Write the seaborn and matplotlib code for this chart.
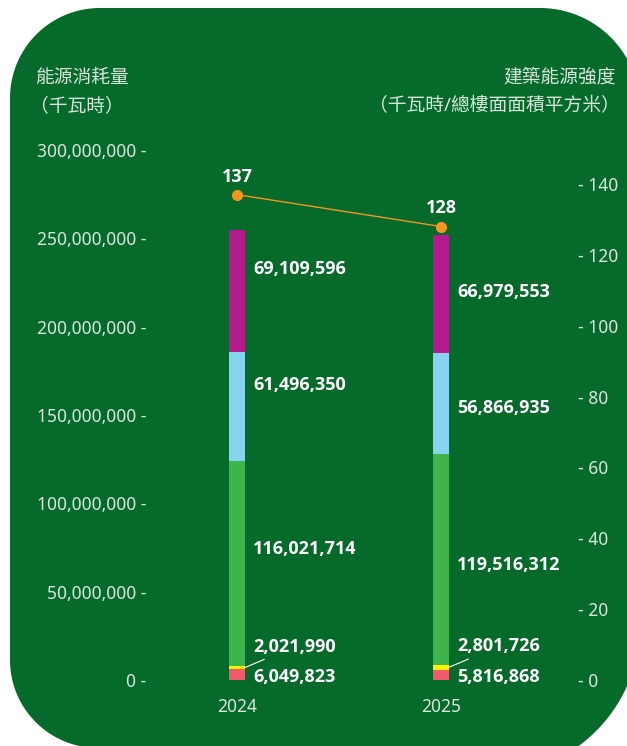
import numpy as np
import matplotlib.pyplot as plt
from matplotlib.path import Path
from matplotlib.patches import PathPatch
import seaborn as sns

# 数据
years = ["2024", "2025"]
seg_red = [6049823, 5816868]
seg_yellow = [2021990, 2801726]
seg_green = [116021714, 119516312]
seg_blue = [61496350, 56866935]
seg_magenta = [69109596, 66979553]
eui = [137, 128]

left_ticks = [0, 50000000, 100000000, 150000000, 200000000, 250000000, 300000000]
right_ticks = [0, 20, 40, 60, 80, 100, 120, 140]

# 颜色
bg_green = "#066a2b"
c_red = "#f05a6a"
c_yellow = "#fff200"
c_green = "#3db54a"
c_blue = "#87d3f0"
c_magenta = "#b5198e"
c_line = "#f7961e"
txt_light = "#d9e6dc"

sns.set_theme(style="white")
plt.rcParams['font.family'] = ['Noto Sans', 'Noto Sans CJK TC', 'DejaVu Sans']
bold_font = ['Open Sans', 'DejaVu Sans']

W, H = 627, 746
fig = plt.figure(figsize=(W / 100, H / 100), dpi=100)
fig.patch.set_facecolor("white")


def fx(x):
    return x / W


def fy(y):
    return 1 - y / H


# 圆角背景（四个角半径不同）
def arc(cx, cy, r, a0, a1, n=40):
    t = np.linspace(np.radians(a0), np.radians(a1), n)
    return [(cx + r * np.cos(t_), cy + r * np.sin(t_)) for t_ in t]


pts = []
pts += arc(10 + 90, 8 + 90, 90, 180, 270)       # 左上
pts += arc(640 - 100, 8 + 100, 100, 270, 360)   # 右上
pts += arc(640 - 150, 775 - 150, 150, 0, 90)    # 右下
pts += arc(10 + 88, 748 - 88, 88, 90, 180)      # 左下
pts = [(fx(x), fy(y)) for x, y in pts]
pts.append(pts[0])
codes = [Path.MOVETO] + [Path.LINETO] * (len(pts) - 2) + [Path.CLOSEPOLY]
bg = PathPatch(Path(pts, codes), transform=fig.transFigure,
               facecolor=bg_green, edgecolor="none", zorder=-10)
fig.patches.append(bg)

# 主坐标轴
ax = fig.add_axes([fx(155), fy(680), (570 - 155) / W, (680 - 150) / H])
ax.patch.set_alpha(0)

# 堆叠柱：从总量往下依次覆盖
layers = [seg_red, seg_yellow, seg_green, seg_blue, seg_magenta]
colors = [c_red, c_yellow, c_green, c_blue, c_magenta]
cums = np.cumsum(np.array(layers), axis=0)
for i in range(len(layers) - 1, -1, -1):
    sns.barplot(x=years, y=cums[i], color=colors[i], width=0.078,
                saturation=1, ax=ax, linewidth=0, zorder=2)

ax.set_xlim(-0.402, 1.632)
ax.set_ylim(0, 300000000)
ax.set_yticks(left_ticks)
ax.set_yticklabels([f"{v:,} -" for v in left_ticks])
ax.tick_params(axis="y", length=0, pad=6, labelsize=12.5, labelcolor=txt_light)
ax.tick_params(axis="x", length=0, pad=13, labelsize=12.5, labelcolor=txt_light)
ax.set_xlabel("")
ax.set_ylabel("")
for s in ax.spines.values():
    s.set_visible(False)
ax.grid(False)

# 数值标签
lbl = dict(color="white", fontsize=13, fontweight="bold", family=bold_font,
           ha="left", va="center")
dy_tweak = {(0, 2): 14, (0, 3): 21, (0, 4): 22, (1, 2): -6, (1, 3): -5, (1, 4): 2}
half_w = 0.039
for j in range(len(years)):
    bottoms = [0] + list(cums[:-1, j])
    for i in (2, 3, 4):
        mid = bottoms[i] + layers[i][j] / 2
        ax.annotate(f"{layers[i][j]:,}", xy=(j + half_w, mid),
                    xytext=(6, dy_tweak[(j, i)] * 0.72), textcoords="offset points",
                    **lbl)
    # 红色段
    ax.annotate(f"{seg_red[j]:,}", xy=(j + half_w, seg_red[j] / 2),
                xytext=(6, -2 * 0.72), textcoords="offset points", **lbl)
    # 黄色段（引线）
    ax.annotate(f"{seg_yellow[j]:,}", xy=(j + half_w, seg_red[j] + seg_yellow[j] / 2),
                xytext=(6, 21 * 0.72), textcoords="offset points", **lbl,
                arrowprops=dict(arrowstyle="-", color="white", lw=0.8,
                                shrinkA=1, shrinkB=0))

# 次坐标轴：建筑能源强度
ax2 = ax.twinx()
sns.lineplot(x=[0, 1], y=eui, ax=ax2, color=c_line, linewidth=1.0,
             marker="o", markersize=8, markeredgewidth=0, zorder=3)
ax2.set_ylim(0, 149.6)
ax2.set_yticks(right_ticks)
ax2.set_yticklabels([f"- {v}" for v in right_ticks])
ax2.tick_params(axis="y", length=0, pad=6, labelsize=12.5, labelcolor=txt_light)
ax2.set_ylabel("")
for s in ax2.spines.values():
    s.set_visible(False)
ax2.grid(False)
for j, v in enumerate(eui):
    ax2.annotate(f"{v}", xy=(j, v), xytext=(0, 13), textcoords="offset points",
                 color="white", fontsize=13, fontweight="bold", family=bold_font,
                 ha="center", va="center")

# 轴标题
ttl = dict(va="center", fontsize=13.5, color=txt_light, fontweight="light")
fig.text(fx(35), fy(78), "能源消耗量", ha="left", **ttl)
fig.text(fx(30), fy(106), "（千瓦時）", ha="left", **ttl)
fig.text(fx(616), fy(78), "建築能源強度", ha="right", **ttl)
fig.text(fx(620), fy(106), "（千瓦時/總樓面面積平方米）", ha="right", **ttl)

fig.savefig("out.png", dpi=100)
